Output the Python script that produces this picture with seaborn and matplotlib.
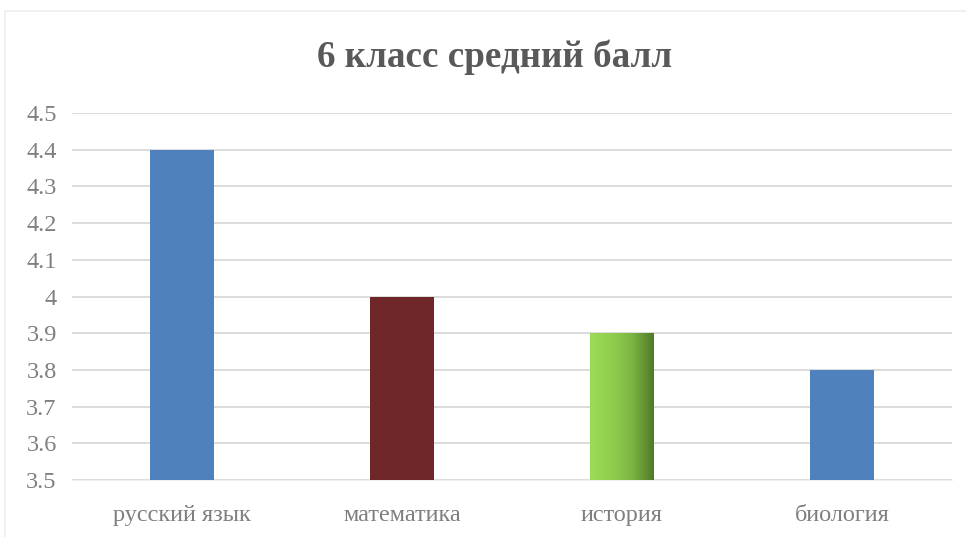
import numpy as np
import pandas as pd
import matplotlib
matplotlib.use("Agg")
import matplotlib.pyplot as plt
import seaborn as sns
from matplotlib.colors import LinearSegmentedColormap
from matplotlib.patches import Rectangle

subjects = ['русский язык', 'математика', 'история', 'биология']
scores = [4.4, 4.0, 3.9, 3.8]
colors = ['#4F81BD', '#6E2628', '#92D050', '#4F81BD']
title = '6 класс средний балл'

sns.set_style("white")
plt.rcParams['font.family'] = ['Liberation Serif', 'DejaVu Serif']

df = pd.DataFrame({'subject': subjects, 'score': scores})

fig = plt.figure(figsize=(9.66, 5.37), dpi=100)
ax = fig.add_axes([0.0745, 0.106, 0.911, 0.6836])

sns.barplot(data=df, x='subject', y='score', hue='subject', palette=colors,
            legend=False, width=0.29, ax=ax, zorder=3, saturation=1, linewidth=0)

# gradient on the green bar
green = LinearSegmentedColormap.from_list('g', ['#9BDB58', '#90CF4E', '#7DB443', '#4E7A27'])
bar = ax.patches[2]
x0, y0 = bar.get_x(), bar.get_y()
grad = np.linspace(0, 1, 256).reshape(1, -1)
im = ax.imshow(grad, cmap=green, aspect='auto', zorder=4,
               extent=[x0, x0 + bar.get_width(), 3.5, y0 + bar.get_height()])
im.set_clip_path(bar)

ax.set_ylim(3.5, 4.5)
ax.set_xlim(-0.5, 3.5)
ax.set_yticks(np.arange(3.5, 4.51, 0.1))
ax.set_yticklabels(['3.5', '3.6', '3.7', '3.8', '3.9', '4', '4.1', '4.2', '4.3', '4.4', '4.5'])
ax.yaxis.grid(True, color='#D9D9D9', linewidth=1.3, zorder=0)
for s in ['top', 'right', 'left']:
    ax.spines[s].set_visible(False)
ax.spines['bottom'].set_color('#F0F0F0')
ax.tick_params(axis='both', length=0, labelsize=17.5, labelcolor='#7F7F7F')
ax.tick_params(axis='y', pad=11)
ax.tick_params(axis='x', pad=18)
ax.set_xlabel('')
ax.set_ylabel('')

fig.text(0.512, 0.893, title, ha='center', va='center', fontsize=26.7,
         fontweight='bold', color='#595959')

fig.patches.append(Rectangle((0.005, -0.01), 1.0, 0.99, transform=fig.transFigure,
                             fill=False, edgecolor='#EEEEEE', linewidth=1.2))

fig.savefig('out.png', dpi=100)
